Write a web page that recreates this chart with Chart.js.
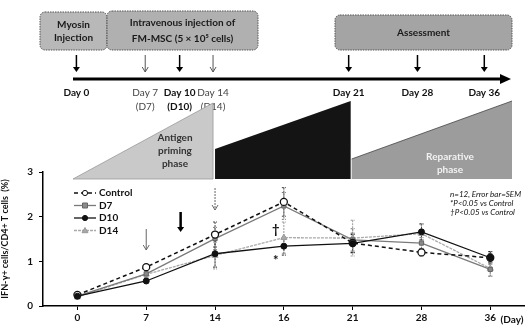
<!DOCTYPE html>
<html>
<head>
<meta charset="utf-8">
<script src="https://cdn.jsdelivr.net/npm/chart.js@4.4.0/dist/chart.umd.min.js"></script>
<style>
  html, body { margin: 0; padding: 0; background: #fff; }
</style>
</head>
<body>
<canvas id="ifnChart" width="530" height="329"></canvas>
<script>
const days = ['0', '7', '14', '16', '21', '28', '36'];
const yTicks = [0, 1, 2, 3];

const control = [0.25, 0.87, 1.60, 2.33, 1.41, 1.20, 1.08];
const controlErr = [0.05, 0.06, 0.28, 0.32, 0.22, 0.08, 0.10];
const d7 = [0.22, 0.72, 1.51, 2.24, 1.48, 1.41, 0.82];
const d7Err = [0.05, 0.08, 0.25, 0.30, 0.25, 0.12, 0.15];
const d10 = [0.22, 0.56, 1.17, 1.34, 1.40, 1.66, 1.08];
const d10Err = [0.04, 0.05, 0.30, 0.20, 0.20, 0.18, 0.14];
const d14 = [0.20, 0.71, 1.13, 1.53, 1.52, 1.62, 0.84];
const d14Err = [0.05, 0.07, 0.30, 0.35, 0.40, 0.20, 0.18];

const FONT = 'Lato, "Open Sans", sans-serif';

// error bars drawn under the points
const errorBars = {
  id: 'errorBars',
  beforeDatasetsDraw(chart) {
    const ctx = chart.ctx;
    const y = chart.scales.y;
    chart.data.datasets.forEach((ds, i) => {
      const meta = chart.getDatasetMeta(i);
      ctx.save();
      ctx.strokeStyle = ds.errColor;
      ctx.lineWidth = 1;
      ctx.setLineDash([2, 1]);
      meta.data.forEach((pt, j) => {
        const top = y.getPixelForValue(ds.data[j] + ds.err[j]);
        const bot = y.getPixelForValue(ds.data[j] - ds.err[j]);
        ctx.beginPath();
        ctx.moveTo(pt.x, top); ctx.lineTo(pt.x, bot);
        ctx.moveTo(pt.x - 2, top); ctx.lineTo(pt.x + 2, top);
        ctx.moveTo(pt.x - 2, bot); ctx.lineTo(pt.x + 2, bot);
        ctx.stroke();
      });
      ctx.restore();
    });
  }
};

function arrow(ctx, x, y1, y2, color, width, open) {
  ctx.save();
  ctx.strokeStyle = color;
  ctx.fillStyle = color;
  ctx.lineWidth = width;
  ctx.beginPath();
  ctx.moveTo(x, y1); ctx.lineTo(x, y2 - (open ? 0 : 3));
  ctx.stroke();
  ctx.beginPath();
  if (open) {
    ctx.lineWidth = 1;
    ctx.setLineDash([]);
    ctx.moveTo(x - 3, y2 - 5); ctx.lineTo(x, y2); ctx.lineTo(x + 3, y2 - 5);
    ctx.stroke();
  } else {
    ctx.moveTo(x - 3.5, y2 - 5); ctx.lineTo(x, y2); ctx.lineTo(x + 3.5, y2 - 5);
    ctx.closePath();
    ctx.fill();
  }
  ctx.restore();
}

function box(ctx, x, y, w, h, fill, lines, cy) {
  ctx.save();
  ctx.fillStyle = fill;
  ctx.strokeStyle = '#555';
  ctx.lineWidth = 1;
  ctx.setLineDash([1.5, 1]);
  ctx.beginPath();
  ctx.roundRect(x, y, w, h, 5);
  ctx.fill();
  ctx.stroke();
  ctx.setLineDash([]);
  ctx.fillStyle = '#1a1a1a';
  ctx.font = 'bold 10px ' + FONT;
  ctx.textAlign = 'center';
  ctx.textBaseline = 'middle';
  lines.forEach((t, i) => ctx.fillText(t, x + w / 2, cy[i]));
  ctx.restore();
}

// timeline, phases, legend and annotations
const diagram = {
  id: 'diagram',
  afterDraw(chart) {
    const ctx = chart.ctx;
    const xs = chart.scales.x;
    const px = i => xs.getPixelForValue(i);

    // boxes
    box(ctx, 40, 12, 67, 38, '#b8b8b8', ['Myosin', 'Injection'], [25, 38]);
    box(ctx, 107, 11, 151, 39, '#b0b0b0', ['Intravenous injection of', 'FM-MSC (5 \u00d7 10\u2075 cells)'], [23, 39]);
    box(ctx, 335, 15, 177, 35, '#a4a4a4', ['Assessment'], [33]);

    // timeline
    ctx.save();
    ctx.strokeStyle = '#000';
    ctx.fillStyle = '#000';
    ctx.lineWidth = 3;
    ctx.beginPath();
    ctx.moveTo(73, 79); ctx.lineTo(503, 79);
    ctx.stroke();
    ctx.beginPath();
    ctx.moveTo(500, 74); ctx.lineTo(511, 79); ctx.lineTo(500, 84);
    ctx.closePath(); ctx.fill();
    ctx.restore();

    const tl = [
      { pos: 0, lab: 'Day 0', sub: '', bold: true, dx: -1 },
      { pos: 1, lab: 'Day 7', sub: '(D7)', bold: false, dx: -1 },
      { pos: 1.5, lab: 'Day 10', sub: '(D10)', bold: true, dx: -1 },
      { pos: 2, lab: 'Day 14', sub: '(D14)', bold: false, dx: -2 },
      { pos: 4, lab: 'Day 21', sub: '', bold: true, dx: -4 },
      { pos: 5, lab: 'Day 28', sub: '', bold: true, dx: -4 },
      { pos: 6, lab: 'Day 36', sub: '', bold: true, dx: -6 }
    ];
    tl.forEach(t => {
      const x = px(t.pos) + t.dx;
      if (t.bold) arrow(ctx, x, 55, 72, '#000', 1.5, false);
      else arrow(ctx, x, 55, 72, '#555', 1, true);
      ctx.save();
      ctx.fillStyle = t.bold ? '#111' : '#444';
      ctx.font = (t.bold ? 'bold ' : '') + '10px ' + FONT;
      ctx.textAlign = 'center';
      ctx.textBaseline = 'middle';
      ctx.fillText(t.lab, x, 93);
      if (t.sub) ctx.fillText(t.sub, x, 107);
      ctx.restore();
    });

    // phase wedges
    ctx.save();
    const base = 179;
    ctx.fillStyle = '#c9c9c9';
    ctx.beginPath();
    ctx.moveTo(73, base); ctx.lineTo(px(2) - 2, 103); ctx.lineTo(px(2) - 2, base);
    ctx.closePath(); ctx.fill();
    ctx.strokeStyle = '#999'; ctx.lineWidth = 0.8; ctx.stroke();
    ctx.fillStyle = '#141414';
    ctx.beginPath();
    ctx.moveTo(px(2), base); ctx.lineTo(px(2), 149); ctx.lineTo(px(4) - 2, 101); ctx.lineTo(px(4) - 2, base);
    ctx.closePath(); ctx.fill();
    ctx.fillStyle = '#9c9c9c';
    ctx.beginPath();
    ctx.moveTo(px(4) - 1, base); ctx.lineTo(px(4) - 1, 159); ctx.lineTo(512, 101); ctx.lineTo(512, base);
    ctx.closePath(); ctx.fill();
    ctx.strokeStyle = '#444'; ctx.lineWidth = 0.8;
    ctx.beginPath(); ctx.moveTo(px(4) - 1, 159); ctx.lineTo(512, 101); ctx.stroke();

    ctx.font = 'bold 10px ' + FONT;
    ctx.textAlign = 'center';
    ctx.textBaseline = 'middle';
    ctx.fillStyle = '#333';
    ['Antigen', 'priming', 'phase'].forEach((t, i) => ctx.fillText(t, 175, 138 + i * 13));
    ctx.fillStyle = '#f2f2f2';
    ['Reparative', 'phase'].forEach((t, i) => ctx.fillText(t, 450, 157 + i * 13));
    ctx.restore();

    // arrows inside the plot
    arrow(ctx, px(1), 229, 250, '#666', 1, true);
    arrow(ctx, px(1.5), 212, 232, '#000', 2.5, false);
    ctx.save(); ctx.setLineDash([2, 1]);
    arrow(ctx, px(2), 188, 210, '#666', 1, true);
    ctx.restore();

    // legend
    ctx.save();
    chart.data.datasets.forEach((ds, i) => {
      const y = 193 + i * 12.5;
      ctx.strokeStyle = ds.borderColor;
      ctx.lineWidth = ds.borderWidth;
      ctx.setLineDash(ds.borderDash || []);
      ctx.beginPath(); ctx.moveTo(74, y); ctx.lineTo(96, y); ctx.stroke();
      ctx.setLineDash([]);
      ctx.fillStyle = ds.pointBackgroundColor;
      ctx.strokeStyle = ds.pointBorderColor;
      ctx.lineWidth = 1;
      ctx.beginPath();
      if (ds.pointStyle === 'circle') ctx.arc(85, y, 2.6, 0, Math.PI * 2);
      else if (ds.pointStyle === 'rect') ctx.rect(85 - 2.5, y - 2.5, 5, 5);
      else { ctx.moveTo(85, y - 3); ctx.lineTo(88, y + 2.2); ctx.lineTo(82, y + 2.2); ctx.closePath(); }
      ctx.fill(); ctx.stroke();
      ctx.fillStyle = '#111';
      ctx.font = 'bold 10px ' + FONT;
      ctx.textBaseline = 'middle';
      ctx.fillText(ds.label, 99, y);
    });

    // notes
    ctx.font = 'italic 8px ' + FONT;
    ctx.fillStyle = '#111';
    ctx.textAlign = 'left';
    ctx.fillText('n=12, Error bar=SEM', 450, 194);
    ctx.fillText('*P<0.05 vs Control', 450, 203);
    ctx.fillText('\u2020P<0.05 vs Control', 450, 212);

    // significance marks at day 16
    ctx.font = 'bold 13px ' + FONT;
    ctx.textAlign = 'center';
    ctx.fillText('\u2020', px(3) - 8, 230);
    ctx.fillText('*', px(3) - 8, 261);

    ctx.font = 'bold 10px ' + FONT;
    ctx.fillText('(Day)', 512, 320);
    ctx.restore();
  }
};

new Chart(document.getElementById('ifnChart'), {
  type: 'line',
  data: {
    labels: days,
    datasets: [
      {
        label: 'Control', data: control, err: controlErr, errColor: '#444', order: 1,
        borderColor: '#111', borderWidth: 1.5, borderDash: [4, 3],
        pointStyle: 'circle', pointRadius: 3.5,
        pointBackgroundColor: '#fff', pointBorderColor: '#111', pointBorderWidth: 1.3
      },
      {
        label: 'D7', data: d7, err: d7Err, errColor: '#777', order: 2,
        borderColor: '#7a7a7a', borderWidth: 1.3,
        pointStyle: 'rect', pointRadius: 3,
        pointBackgroundColor: '#8a8a8a', pointBorderColor: '#666', pointBorderWidth: 1
      },
      {
        label: 'D10', data: d10, err: d10Err, errColor: '#222', order: 0,
        borderColor: '#111', borderWidth: 1.3,
        pointStyle: 'circle', pointRadius: 3,
        pointBackgroundColor: '#111', pointBorderColor: '#111', pointBorderWidth: 1
      },
      {
        label: 'D14', data: d14, err: d14Err, errColor: '#999', order: 3,
        borderColor: '#aaa', borderWidth: 1.3, borderDash: [3, 1],
        pointStyle: 'triangle', pointRadius: 3.5,
        pointBackgroundColor: '#aaa', pointBorderColor: '#999', pointBorderWidth: 1
      }
    ]
  },
  options: {
    responsive: false,
    animation: false,
    layout: { padding: { top: 172, right: 3, left: 0, bottom: 0 } },
    plugins: { legend: { display: false }, tooltip: { enabled: false } },
    scales: {
      x: {
        type: 'category',
        offset: true,
        afterFit: s => { s.height = 23; },
        grid: { offset: false, drawOnChartArea: false, drawTicks: true, tickLength: 4, color: '#000' },
        border: { color: '#000', width: 1.5 },
        ticks: { color: '#111', padding: 2, font: { family: FONT, weight: 'bold', size: 10 } }
      },
      y: {
        min: 0, max: 3,
        afterFit: s => { s.width = 43; },
        afterBuildTicks: s => { s.ticks = yTicks.map(v => ({ value: v })); },
        grid: { drawOnChartArea: false, drawTicks: true, tickLength: 4, color: '#000' },
        border: { color: '#000', width: 1.5 },
        ticks: { color: '#111', padding: 6, font: { family: FONT, weight: 'bold', size: 10 } },
        title: {
          display: true, text: 'IFN-\u03b3+ cells/CD4+ T cells  (%)', color: '#111',
          padding: 0, font: { family: FONT, weight: 'bold', size: 9 }
        }
      }
    }
  },
  plugins: [errorBars, diagram]
});
</script>
</body>
</html>
